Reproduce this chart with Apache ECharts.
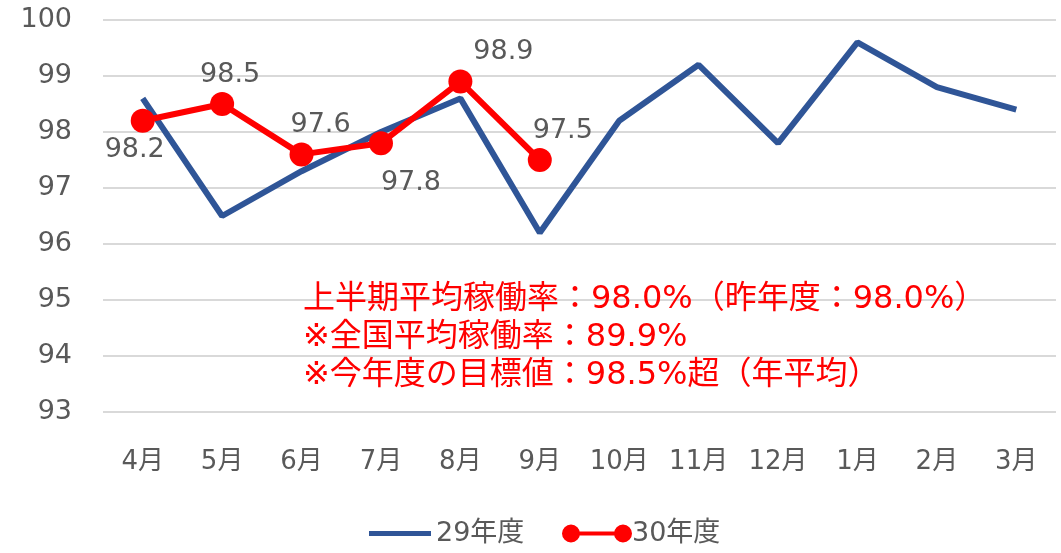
<!DOCTYPE html>
<html>
<head>
<meta charset="utf-8">
<script src="https://cdn.jsdelivr.net/npm/echarts@6/dist/echarts.min.js"></script>
<style>
    html, body { margin: 0; padding: 0; background: #fff; }
    #chart { width: 1061px; height: 553px; }
</style>
</head>
<body>
<div id="chart"></div>
<script>
const MONTHS = ["4月", "5月", "6月", "7月", "8月", "9月", "10月", "11月", "12月", "1月", "2月", "3月"];
const FY29 = [98.6, 96.5, 97.3, 98.0, 98.6, 96.2, 98.2, 99.2, 97.8, 99.6, 98.8, 98.4];
const FY30 = [98.2, 98.5, 97.6, 97.8, 98.9, 97.5];
const NOTES = [
    "上半期平均稼働率：98.0%（昨年度：98.0%）",
    "※全国平均稼働率：89.9%",
    "※今年度の目標値：98.5%超（年平均）",
];

const FONT = '"DejaVu Sans", "Noto Sans CJK JP", sans-serif';
const GREY = "#595959";
const BLUE = "#2f5597";
const RED = "#ff0000";

// label placement for each red point: [position, dx, dy]
const labelPlace = [
    ["bottom", -8, 0],
    ["top", 8, 0],
    ["top", 19, 0],
    ["bottom", 30, 10],
    ["top", 43, 0],
    ["top", 23, 0],
];

const chart = echarts.init(document.getElementById("chart"));

const DUMBBELL = "path://M0,9A9,9 0 1,1 18,9A9,9 0 1,1 0,9Z M9,7L61,7L61,11L9,11Z M52,9A9,9 0 1,1 70,9A9,9 0 1,1 52,9Z";

chart.setOption({
    backgroundColor: "#fff",
    textStyle: { fontFamily: FONT },
    animation: false,
    grid: { left: 103, right: 5, top: 20, bottom: 141 },
    legend: [
        {
            data: [{ name: "29年度", icon: "rect" }],
            left: 364,
            top: 515,
            itemWidth: 62,
            itemHeight: 5,
            itemGap: 4,
            textStyle: { color: GREY, fontSize: 27, fontFamily: FONT },
        },
        {
            data: [{ name: "30年度", icon: DUMBBELL }],
            left: 557,
            top: 515,
            itemWidth: 70,
            itemHeight: 18,
            itemGap: 0,
            textStyle: { color: GREY, fontSize: 27, fontFamily: FONT, padding: [0, 0, 0, -5] },
        },
    ],
    xAxis: {
        type: "category",
        data: MONTHS,
        boundaryGap: true,
        axisLine: { show: false },
        axisTick: { show: false },
        axisLabel: { color: GREY, fontSize: 26, margin: 37, fontFamily: FONT },
    },
    yAxis: {
        type: "value",
        min: 93,
        max: 100,
        interval: 1,
        axisLine: { show: false },
        axisTick: { show: false },
        axisLabel: { color: GREY, fontSize: 27, margin: 31, fontFamily: FONT },
        splitLine: { lineStyle: { color: "#d9d9d9", width: 2 } },
    },
    graphic: NOTES.map((t, i) => ({
        type: "text",
        left: 303,
        top: 284 + i * 38,
        style: { text: t, fill: RED, fontSize: 32, fontFamily: FONT },
        z: 10,
    })),
    series: [
        {
            name: "29年度",
            type: "line",
            data: FY29,
            symbol: "none",
            lineStyle: { color: BLUE, width: 6 },
            itemStyle: { color: BLUE },
            z: 2,
        },
        {
            name: "30年度",
            type: "line",
            data: FY30.map((v, i) => ({
                value: v,
                label: {
                    position: labelPlace[i][0],
                    offset: [labelPlace[i][1], labelPlace[i][2]],
                },
            })),
            symbol: "circle",
            symbolSize: 24,
            lineStyle: { color: RED, width: 6 },
            itemStyle: { color: RED },
            label: {
                show: true,
                color: GREY,
                fontSize: 27,
                fontFamily: FONT,
                distance: 4,
            },
            z: 3,
        },
    ],
});
</script>
</body>
</html>
